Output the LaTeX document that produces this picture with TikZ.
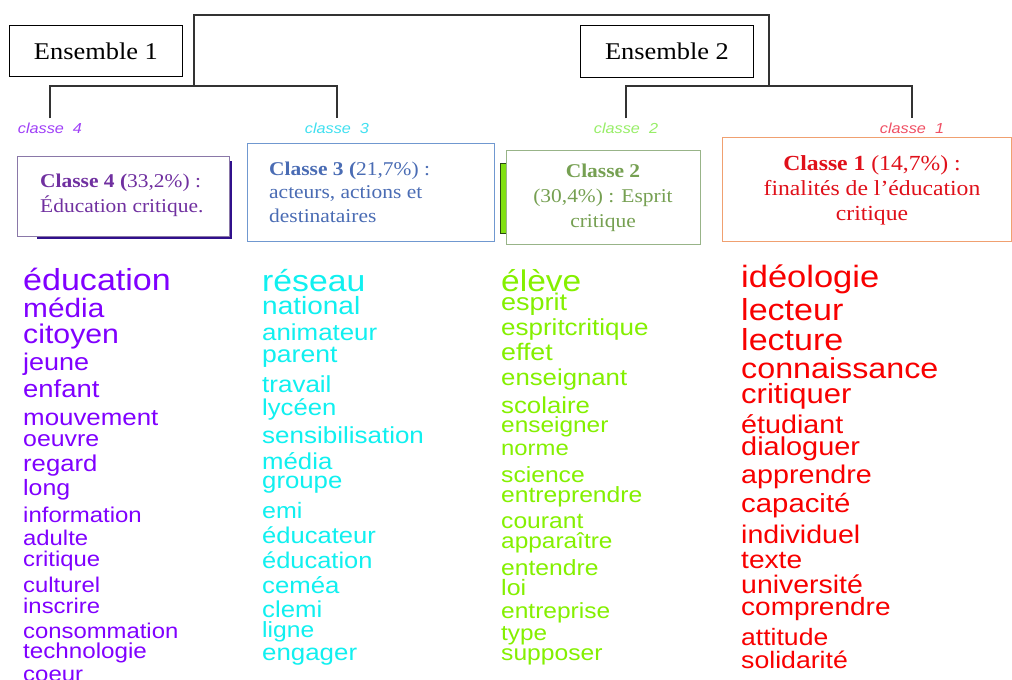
\documentclass[tikz,border=0pt]{standalone}
\usepackage{fontspec}
\setmainfont[FakeStretch=1.1]{Liberation Serif}
\newfontfamily\cloudfont[FakeStretch=1.12]{Liberation Sans}
\newcommand{\stackL}[2]{\vtop{\baselineskip=#1\lineskiplimit=-\maxdimen\lineskip=0pt\halign{##\hfil\cr#2\crcr}}}
\newcommand{\stackC}[2]{\vtop{\baselineskip=#1\lineskiplimit=-\maxdimen\lineskip=0pt\halign{\hfil##\hfil\cr#2\crcr}}}
\definecolor{treegray}{HTML}{333333}
\definecolor{wpurple}{HTML}{8000FF}
\definecolor{wcyan}{HTML}{10F0F0}
\definecolor{wgreen}{HTML}{84F000}
\definecolor{wred}{HTML}{F80000}
\definecolor{lpurple}{HTML}{A040F8}
\definecolor{lcyan}{HTML}{40E0F0}
\definecolor{lgreen}{HTML}{98EE68}
\definecolor{lred}{HTML}{F05064}
\definecolor{t4col}{HTML}{7030A0}
\definecolor{b4col}{HTML}{8A78A8}
\definecolor{s4col}{HTML}{30108C}
\definecolor{t3col}{HTML}{4A6CB4}
\definecolor{b3col}{HTML}{7098D0}
\definecolor{t2col}{HTML}{76A052}
\definecolor{b2col}{HTML}{98B488}
\definecolor{bar2col}{HTML}{80E010}
\definecolor{bar2edge}{HTML}{2A4A10}
\definecolor{t1col}{HTML}{E0101A}
\definecolor{b1col}{HTML}{F0A070}
\begin{document}
\begin{tikzpicture}[x=1pt,y=-1pt,
  tree/.style={draw=treegray, line width=1.4pt},
  ensbox/.style={draw=black, line width=0.9pt, fill=white, anchor=north west, inner sep=0pt,
    font=\fontsize{24}{28}\selectfont},
  classbox/.style={line width=0.9pt, fill=white, anchor=north west, inner sep=0pt},
  boxtext/.style={inner sep=0pt, font=\fontsize{19.5}{25}\selectfont},
  lab/.style={anchor=base, inner xsep=0pt, inner ysep=4pt, font=\cloudfont\itshape\fontsize{14.5}{16}\selectfont},
  word/.style={anchor=base west, inner sep=0pt}
]
\useasboundingbox (0,0) rectangle (1012,680);
\fill[white] (0,0) rectangle (1012,680);

% ensembles
\node[ensbox, minimum width=173pt, minimum height=51pt] (e1) at (9,25) {Ensemble 1};
\node[ensbox, minimum width=173pt, minimum height=52pt] (e2) at (580,25) {Ensemble 2};

% class labels
\node[lab, text=lpurple] (lab4) at (50,133) {classe\ \ 4};
\node[lab, text=lcyan]   (lab3) at (337,133) {classe\ \ 3};
\node[lab, text=lgreen]  (lab2) at (626,133) {classe\ \ 2};
\node[lab, text=lred]    (lab1) at (912,133) {classe\ \ 1};

% tree
\coordinate (top) at (0,15);
\coordinate (j1) at (194,86);
\coordinate (j2) at (769,86);
\draw[tree] (lab4.north) |- (j1) -| (lab3.north);
\draw[tree] (lab2.north) |- (j2) -| (lab1.north);
\draw[tree] (j1) -- (j1 |- top) -- (j2 |- top) -- (j2);

% class 4 box
\fill[s4col] (37,161) rectangle (232,239);
\node[classbox, draw=b4col, minimum width=212pt, minimum height=80pt] (c4) at (17,156) {};
\node[boxtext, anchor=base west, text=t4col] (t4) at (40,187)
  {\stackL{25pt}{\textbf{Classe 4 (}33,2\%) :\cr Éducation critique.}};

% class 3 box
\node[classbox, draw=b3col, minimum width=247pt, minimum height=98pt] (c3) at (247,143) {};
\node[boxtext, anchor=base west, text=t3col] (t3) at (269,175)
  {\stackL{23.5pt}{\textbf{Classe 3 (}21,7\%) :\cr acteurs, actions et\cr destinataires}};

% class 2 box
\node[draw=bar2edge, fill=bar2col, line width=0.8pt, anchor=north west, inner sep=0pt,
  minimum width=6pt, minimum height=70pt] (bar2) at (500,163) {};
\node[classbox, draw=b2col, minimum width=194pt, minimum height=94pt] (c2) at (506,150) {};
\node[boxtext, anchor=base, text=t2col] (t2) at (603,177)
  {\stackC{25pt}{\textbf{Classe 2}\cr (30,4\%) : Esprit\cr critique}};

% class 1 box
\node[classbox, draw=b1col, minimum width=289pt, minimum height=104pt] (c1) at (722,137) {};
\node[boxtext, anchor=base, text=t1col, font=\fontsize{21.5}{25}\selectfont] (t1) at (872,170)
  {\stackC{25pt}{\textbf{Classe 1} (14,7\%) :\cr finalités de l’éducation\cr critique}};

% word columns
\foreach \w/\b/\s [count=\i] in {éducation/290/30.4, média/317/26.6, citoyen/343/27,
  jeune/370/24.1, enfant/397/24.5, mouvement/425/23.1, oeuvre/446/22.2, regard/471/22.9,
  long/495/22.2, information/522/21.4, adulte/545/21.3, critique/566/21.3, culturel/592/21.3,
  inscrire/613/21.3, consommation/638/21.3, technologie/658/21.6, coeur/681/21.4}
  \node[word, text=wpurple, font=\cloudfont\fontsize{\s}{\s}\selectfont] (p-\i) at (23,\b) {\w};

\foreach \w/\b/\s [count=\i] in {réseau/291/30.1, national/314/25, animateur/340/23.1,
  parent/362/23.7, travail/392/23.2, lycéen/415/22.9, sensibilisation/443/23.2,
  média/469/23, groupe/488/23, emi/518/22.3, éducateur/543/22.8, éducation/568/22.7,
  ceméa/593/23, clemi/617/23, ligne/637/22, engager/660/23.1}
  \node[word, text=wcyan, font=\cloudfont\fontsize{\s}{\s}\selectfont] (c-\i) at (262,\b) {\w};

\foreach \w/\b/\s [count=\i] in {élève/291/29.9, esprit/310/24.1, espritcritique/335/23.2,
  effet/360/23.9, enseignant/385/23, scolaire/413/23, enseigner/432/21.8, norme/455/21.3,
  science/482/22, entreprendre/502/22, courant/528/22, apparaître/548/21.8,
  entendre/575/22, loi/595/22.3, entreprise/618/21.9, type/640/21.7, supposer/660/22}
  \node[word, text=wgreen, font=\cloudfont\fontsize{\s}{\s}\selectfont] (g-\i) at (501,\b) {\w};

\foreach \w/\b/\s [count=\i] in {idéologie/287/30.8, lecteur/320/30.4, lecture/350/30.4,
  connaissance/378/28.8, critiquer/403/27.7, étudiant/433/25.6, dialoguer/455/25.8,
  apprendre/483/25.6, capacité/512/26.2, individuel/543/25.5, texte/568/25.1,
  université/593/25.4, comprendre/615/25, attitude/645/23.7, solidarité/668/23.8}
  \node[word, text=wred, font=\cloudfont\fontsize{\s}{\s}\selectfont] (r-\i) at (741,\b) {\w};
\end{tikzpicture}
\end{document}
